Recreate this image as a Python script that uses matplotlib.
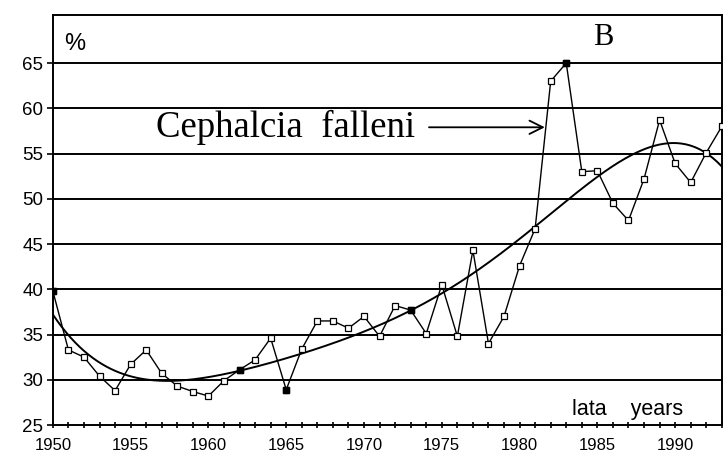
import numpy as np
import matplotlib
matplotlib.use("Agg")
from matplotlib import pyplot as plt

years = list(range(1950, 1994))
share = [39.8, 33.3, 32.5, 30.4, 28.8, 31.7, 33.3, 30.7, 29.3, 28.7,
         28.2, 29.9, 31.1, 32.2, 34.6, 28.9, 33.4, 36.5, 36.5, 35.7,
         37.0, 34.8, 38.2, 37.7, 35.1, 40.5, 34.8, 44.3, 34.0, 37.0,
         42.6, 46.7, 63.0, 65.0, 53.0, 53.1, 49.5, 47.6, 52.2, 58.7,
         53.9, 51.8, 55.1, 58.0]
filled_years = [1950, 1962, 1965, 1973, 1983]
yticks = [25, 30, 35, 40, 45, 50, 55, 60, 65]
xticks = [1950, 1955, 1960, 1965, 1970, 1975, 1980, 1985, 1990]

x = np.array(years, dtype=float)
y = np.array(share)

# polynomial trend, like the spreadsheet trendline
coef = np.polyfit(x - 1970, y, 5)
xs = np.linspace(1950, 1993, 300)
trend = np.polyval(coef, xs - 1970)

plt.rcParams['font.family'] = ['Liberation Sans', 'DejaVu Sans']
fig = plt.figure(figsize=(7.24, 4.57), dpi=100)
ax = fig.add_axes([0.073, 0.070, 0.924, 0.897])

for v in yticks[1:]:
    ax.axhline(v, color='black', lw=1.4, zorder=1)

ax.plot(xs, trend, color='black', lw=1.4, zorder=2)
ax.plot(x, y, color='black', lw=1.0, marker='s', ms=4, mfc='white',
        mec='black', mew=0.9, zorder=3)
fx = [v for v in years if v in filled_years]
fy = [share[years.index(v)] for v in fx]
ax.plot(fx, fy, ls='none', marker='s', ms=4, mfc='black', mec='black', zorder=4)

ax.set_xlim(1950, 1992.9)
ax.set_ylim(25, 70.3)
ax.set_yticks(yticks)
ax.set_xticks(xticks)
ax.set_xticks(years, minor=True)
ax.tick_params(axis='y', direction='out', length=4, width=1.2, labelsize=13.5, pad=3)
ax.tick_params(axis='x', which='both', direction='inout', length=4, width=1.2,
               labelsize=12, pad=7)
for s in ax.spines.values():
    s.set_linewidth(1.4)

ax.text(1950.75, 66.4, '%', fontsize=17)
ax.text(1984.7, 67.0, 'B', fontsize=22, family='Liberation Serif')
ax.text(1956.6, 56.8, 'Cephalcia  falleni', fontsize=26.5, family='Liberation Serif')
ax.annotate('', xy=(1981.8, 57.9), xytext=(1974.0, 57.9),
            arrowprops=dict(arrowstyle='->', lw=1.3, color='black',
                            mutation_scale=24))
ax.text(1983.4, 26.1, 'lata    years', fontsize=15.5)

fig.savefig('out.png', dpi=100)
